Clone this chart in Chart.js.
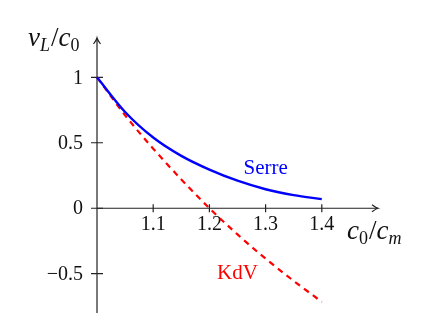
<!DOCTYPE html>
<html>
<head>
<meta charset="utf-8">
<script src="https://cdn.jsdelivr.net/npm/chart.js@4/dist/chart.umd.min.js"></script>
<style>
  html, body { margin: 0; padding: 0; background: #fff; }
  #wrap { width: 437px; height: 325px; }
</style>
</head>
<body>
<div id="wrap"><canvas id="grafico"></canvas></div>
<script>
// dados
const razaoC = [1.0, 1.05, 1.1, 1.15, 1.2, 1.25, 1.3, 1.35, 1.4];
const serre = [1.0, 0.735, 0.54, 0.4, 0.295, 0.21, 0.145, 0.1, 0.07];
const kdv = [1.0, 0.71, 0.455, 0.22, 0.0, -0.2, -0.385, -0.555, -0.715];
const ticksX = [1.1, 1.2, 1.3, 1.4];
const ticksY = [1, 0.5, 0, -0.5];
const rotulosY = ['1', '0.5', '0', '\u22120.5'];

const fonte = '"Liberation Serif", "DejaVu Serif", serif';

// eixos no estilo pgfplots (cruzando na origem, com setas)
const eixos = {
  id: 'eixos',
  beforeDatasetsDraw(chart) {
    const ctx = chart.ctx;
    const sx = chart.scales.x, sy = chart.scales.y;
    const x0 = sx.getPixelForValue(1), y0 = sy.getPixelForValue(0);
    const xEnd = sx.getPixelForValue(1.5), yTop = sy.getPixelForValue(1.3);
    const yBot = sy.getPixelForValue(-0.8);
    ctx.save();
    ctx.strokeStyle = '#222';
    ctx.lineWidth = 1.2;
    ctx.beginPath();
    ctx.moveTo(x0, yBot); ctx.lineTo(x0, yTop);
    ctx.moveTo(x0, y0); ctx.lineTo(xEnd, y0);
    ctx.stroke();
    // setas
    ctx.beginPath();
    ctx.moveTo(x0 - 3.5, yTop + 6); ctx.quadraticCurveTo(x0 - 0.5, yTop + 2, x0, yTop);
    ctx.quadraticCurveTo(x0 + 0.5, yTop + 2, x0 + 3.5, yTop + 6);
    ctx.moveTo(xEnd - 6, y0 - 3.5); ctx.quadraticCurveTo(xEnd - 2, y0 - 0.5, xEnd, y0);
    ctx.quadraticCurveTo(xEnd - 2, y0 + 0.5, xEnd - 6, y0 + 3.5);
    ctx.stroke();
    // marcas
    ctx.beginPath();
    ticksX.forEach(v => {
      const p = sx.getPixelForValue(v);
      ctx.moveTo(p, y0 - 4); ctx.lineTo(p, y0 + 4);
    });
    ticksY.forEach(v => {
      const p = sy.getPixelForValue(v);
      ctx.moveTo(x0 - 6, p); ctx.lineTo(x0 + 6, p);
    });
    ctx.stroke();
    // rotulos das marcas
    ctx.fillStyle = '#111';
    ctx.font = '20px ' + fonte;
    ctx.textAlign = 'center';
    ctx.textBaseline = 'middle';
    ticksX.forEach(v => {
      ctx.fillText(v.toFixed(1), sx.getPixelForValue(v), y0 + 17);
    });
    ctx.textAlign = 'right';
    ticksY.forEach((v, i) => {
      ctx.fillText(rotulosY[i], x0 - 14, sy.getPixelForValue(v) + 1);
    });
    ctx.restore();
  },
  afterDatasetsDraw(chart) {
    const ctx = chart.ctx;
    const sx = chart.scales.x, sy = chart.scales.y;
    ctx.save();
    ctx.textBaseline = 'alphabetic';
    ctx.textAlign = 'left';
    ctx.fillStyle = '#111';
    // texto com indices
    const escreve = (partes, x, y) => {
      partes.forEach(p => {
        ctx.font = p.f;
        ctx.fillText(p.t, x, y + (p.dy || 0));
        x += ctx.measureText(p.t).width + (p.k || 0);
      });
    };
    const it = 'italic 27px ' + fonte, sub = 'italic 18px ' + fonte, up = '18px ' + fonte, bar = '27px ' + fonte;
    escreve([
      { t: 'v', f: it },
      { t: 'L', f: sub, dy: 5, k: 1 },
      { t: '/', f: bar },
      { t: 'c', f: it },
      { t: '0', f: up, dy: 5 }
    ], 28, 46);
    escreve([
      { t: 'c', f: it },
      { t: '0', f: up, dy: 5, k: 1 },
      { t: '/', f: bar },
      { t: 'c', f: it },
      { t: 'm', f: sub, dy: 5 }
    ], 347, 239);
    ctx.font = '21px ' + fonte;
    ctx.textAlign = 'center';
    ctx.textBaseline = 'middle';
    ctx.fillStyle = '#0000ff';
    ctx.fillText('Serre', sx.getPixelForValue(1.3), sy.getPixelForValue(0.3));
    ctx.fillStyle = '#ff0000';
    ctx.fillText('KdV', sx.getPixelForValue(1.25), sy.getPixelForValue(-0.5));
    ctx.restore();
  }
};

window.addEventListener('load', () => {
  new Chart(document.getElementById('grafico'), {
    type: 'line',
    data: {
      labels: razaoC,
      datasets: [{
        label: 'Serre',
        data: razaoC.map((x, i) => ({ x: x, y: serre[i] })),
        borderColor: '#0000ff',
        borderWidth: 2.4,
        pointRadius: 0,
        cubicInterpolationMode: 'monotone',
        clip: false
      },
      {
        label: 'KdV',
        data: razaoC.map((x, i) => ({ x: x, y: kdv[i] })),
        borderColor: '#ff0000',
        borderWidth: 2.2,
        borderDash: [6, 5],
        pointRadius: 0,
        cubicInterpolationMode: 'monotone',
        clip: false
      }]
    },
    options: {
      responsive: true,
      maintainAspectRatio: false,
      animation: false,
      layout: { padding: { left: 97, right: 59, top: 38, bottom: 12 } },
      plugins: { legend: false, tooltip: { enabled: false } },
      scales: {
        x: { type: 'linear', min: 1, max: 1.5, display: false },
        y: { type: 'linear', min: -0.8, max: 1.3, display: false }
      }
    },
    plugins: [eixos]
  });
});
</script>
</body>
</html>
